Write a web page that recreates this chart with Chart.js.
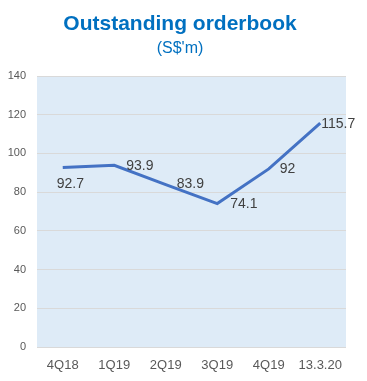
<!DOCTYPE html>
<html>
<head>
<meta charset="utf-8">
<title>Outstanding orderbook</title>
<script src="https://cdn.jsdelivr.net/npm/chart.js@4"></script>
<style>
  html, body { margin: 0; padding: 0; background: #fff; }
  canvas { display: block; }
</style>
</head>
<body>
<canvas id="chart" width="367" height="381"></canvas>
<script>
// valores
const periods = ['4Q18', '1Q19', '2Q19', '3Q19', '4Q19', '13.3.20'];
const orderbook = [92.7, 93.9, 83.9, 74.1, 92, 115.7];
const labelText = ['92.7', '93.9', '83.9', '74.1', '92', '115.7'];

// titulo y etiquetas dibujados a mano
const titlePlugin = {
  id: 'titles',
  afterDraw(chart) {
    const ctx = chart.ctx;
    ctx.save();
    ctx.fillStyle = '#0070C0';
    ctx.textAlign = 'center';
    ctx.textBaseline = 'alphabetic';
    ctx.font = 'bold 21px "Liberation Sans", Arial, sans-serif';
    ctx.fillText('Outstanding orderbook', 180, 30);
    ctx.font = '16px "Liberation Sans", Arial, sans-serif';
    ctx.fillText("(S$'m)", 180, 53);
    ctx.restore();
  }
};

const bgPlugin = {
  id: 'plotBg',
  beforeDraw(chart) {
    const { ctx, chartArea } = chart;
    ctx.save();
    ctx.fillStyle = '#deebf7';
    ctx.fillRect(chartArea.left, chartArea.top, chartArea.right - chartArea.left, chartArea.bottom - chartArea.top);
    ctx.restore();
  }
};

const valueLabels = {
  id: 'valueLabels',
  afterDatasetsDraw(chart, args, opts) {
    const ctx = chart.ctx;
    const meta = chart.getDatasetMeta(0);
    ctx.save();
    ctx.fillStyle = '#404040';
    ctx.font = '14px "Liberation Sans", Arial, sans-serif';
    ctx.textAlign = 'left';
    ctx.textBaseline = 'middle';
    meta.data.forEach((pt, i) => {
      const off = opts.offsets[i];
      ctx.fillText(labelText[i], pt.x + off[0], pt.y + off[1]);
    });
    ctx.restore();
  }
};

new Chart(document.getElementById('chart'), {
  type: 'line',
  data: {
    labels: periods,
    datasets: [{
      data: orderbook,
      borderColor: '#4472C4',
      borderWidth: 3,
      pointRadius: 0,
      tension: 0,
      fill: false
    }]
  },
  options: {
    responsive: false,
    animation: false,
    layout: { padding: { top: 76, right: 21, bottom: 0, left: 0 } },
    plugins: {
      legend: { display: false },
      tooltip: { enabled: false },
      valueLabels: {
        offsets: [[-6, 17], [12, 1], [11, 0], [13, 1], [11, 0], [1, 1]]
      }
    },
    scales: {
      x: {
        offset: true,
        grid: { display: false, drawTicks: false },
        border: { display: false },
        ticks: {
          color: '#595959',
          font: { family: '"Liberation Sans", Arial, sans-serif', size: 13 },
          padding: 11,
          maxRotation: 0,
          autoSkip: false
        },
        afterFit(scale) { scale.height = 34; }
      },
      y: {
        min: 0,
        max: 140,
        grid: { color: '#d9d9d9', lineWidth: 1, drawTicks: false },
        border: { display: false },
        ticks: {
          stepSize: 20,
          color: '#595959',
          font: { family: '"Liberation Sans", Arial, sans-serif', size: 11 },
          padding: 11
        },
        afterFit(scale) { scale.width = 37; }
      }
    }
  },
  plugins: [bgPlugin, valueLabels, titlePlugin]
});
</script>
</body>
</html>
